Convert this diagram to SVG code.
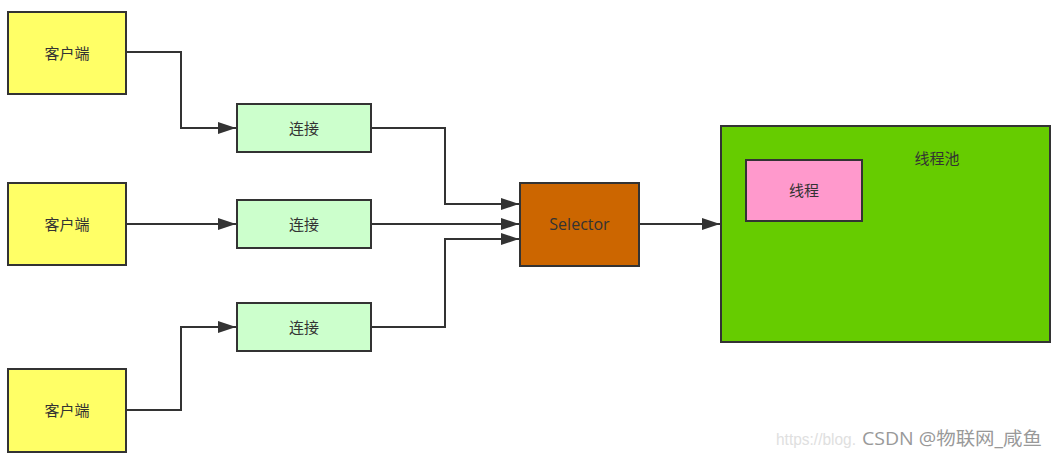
<svg xmlns="http://www.w3.org/2000/svg" width="1056" height="459" viewBox="0 0 1056 459">
<style>
  .box{stroke:#333333;stroke-width:2}
  .client{fill:#FFFF66}
  .conn{fill:#CCFFCC}
  .sel{fill:#CC6600}
  .pool{fill:#66CC00}
  .thread{fill:#FF99CC}
  .t{font-family:"Open Sans","Noto Sans CJK SC",sans-serif;font-size:15px;fill:#333333;text-anchor:middle;dominant-baseline:central}
  .edge{fill:none;stroke:#333333;stroke-width:2;marker-end:url(#arr)}
</style>
<defs>
  <marker id="arr" markerUnits="userSpaceOnUse" markerWidth="18" markerHeight="14" viewBox="0 0 18 14" refX="18" refY="7" orient="auto">
    <path d="M0,1 L18,7 L0,13 z" fill="#333333"/>
  </marker>
</defs>
<rect width="1056" height="459" fill="#FFFFFF"/>
<g id="connectors">
  <path class="edge" d="M126,52 H181 V128 H236"/>
  <path class="edge" d="M126,224 H236"/>
  <path class="edge" d="M126,410 H181 V327 H236"/>
  <path class="edge" d="M371,128 H445 V204 H519"/>
  <path class="edge" d="M371,224 H519"/>
  <path class="edge" d="M371,327 H445 V239 H519"/>
  <path class="edge" d="M639,224 H720"/>
</g>
<g id="client1"><rect class="box client" x="8" y="12" width="118" height="82"/><text class="t" x="67" y="53">客户端</text></g>
<g id="client2"><rect class="box client" x="8" y="183" width="118" height="82"/><text class="t" x="67" y="224">客户端</text></g>
<g id="client3"><rect class="box client" x="8" y="369" width="118" height="83"/><text class="t" x="67" y="410">客户端</text></g>
<g id="conn1"><rect class="box conn" x="237" y="104" width="134" height="48"/><text class="t" x="304" y="128">连接</text></g>
<g id="conn2"><rect class="box conn" x="237" y="200" width="134" height="48"/><text class="t" x="304" y="224">连接</text></g>
<g id="conn3"><rect class="box conn" x="237" y="303" width="134" height="48"/><text class="t" x="304" y="327">连接</text></g>
<g id="selector"><rect class="box sel" x="520" y="183" width="119" height="83"/><text class="t" x="579.5" y="224" style="font-size:16px">Selector</text></g>
<g id="pool"><rect class="box pool" x="721" y="126" width="329" height="216"/><text class="t" x="937" y="158">线程池</text></g>
<g id="thread"><rect class="box thread" x="746" y="160" width="116" height="61"/><text class="t" x="804" y="190">线程</text></g>
<g id="watermark">
  <text x="776" y="445" textLength="80" lengthAdjust="spacingAndGlyphs" style="font-family:'Liberation Sans',sans-serif;font-size:17px;fill:#E0E0E0">https://blog.</text>
  <text x="862" y="445" textLength="180" lengthAdjust="spacingAndGlyphs" style="font-family:'Open Sans','Noto Sans CJK SC',sans-serif;font-size:18px;fill:#999999">CSDN @物联网_咸鱼</text>
</g>
</svg>
